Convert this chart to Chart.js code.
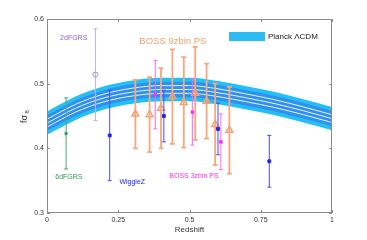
<!DOCTYPE html>
<html>
<head>
<meta charset="utf-8">
<script src="https://cdn.jsdelivr.net/npm/chart.js@4"></script>
<style>
html,body{margin:0;padding:0;background:#fff;}
</style>
</head>
<body>
<canvas id="graf" width="367" height="240"></canvas>
<script>
// Planck LCDM band
const planckZ = [0, 0.1, 0.2, 0.3, 0.4, 0.5, 0.6, 0.7, 0.8, 0.9, 1.0];
const planckFs8 = [0.439, 0.462, 0.478, 0.487, 0.491, 0.491, 0.486, 0.478, 0.469, 0.458, 0.446];
const planckOuter = 0.018;
const planckInner = 0.012;
const planckLine = 0.006;

// 6dFGRS
const sixdfZ = [0.067];
const sixdfF = [0.423];
const sixdfErr = [0.055];

// 2dFGRS
const twodfZ = [0.17];
const twodfF = [0.514];
const twodfErr = [0.071];

// WiggleZ
const wiggleZ = [0.22, 0.41, 0.60, 0.78];
const wiggleF = [0.42, 0.45, 0.43, 0.38];
const wiggleErr = [0.07, 0.04, 0.04, 0.04];

// BOSS 3zbin PS
const boss3Z = [0.38, 0.51, 0.61];
const boss3F = [0.483, 0.456, 0.410];
const boss3Err = [0.053, 0.051, 0.043];

// BOSS 9zbin PS
const boss9Z = [0.31, 0.36, 0.40, 0.44, 0.48, 0.52, 0.56, 0.59, 0.64];
const boss9F = [0.453, 0.452, 0.462, 0.480, 0.471, 0.485, 0.473, 0.437, 0.428];
const boss9Err = [0.053, 0.058, 0.062, 0.073, 0.070, 0.072, 0.058, 0.063, 0.067];

// axis ticks
const xTicks = [0, 0.25, 0.5, 0.75, 1];
const yTicks = [0.3, 0.4, 0.5, 0.6];

const pts = (xs, ys) => xs.map((x, i) => ({x: x, y: ys[i]}));
const band = (d) => planckZ.map((z, i) => ({x: z, y: planckFs8[i] + d}));

const FONT = "'Liberation Sans', Arial, sans-serif";

function bandSet(d, order, extra) {
  return Object.assign({
    data: band(d),
    borderWidth: 0,
    pointRadius: 0,
    cubicInterpolationMode: 'monotone',
    fill: false,
    order: order
  }, extra || {});
}

function pointSet(label, xs, ys, errs, style) {
  return Object.assign({
    label: label,
    data: pts(xs, ys),
    errors: errs,
    showLine: false,
    order: 1
  }, style);
}

const datasets = [
  bandSet(planckOuter, 14),
  bandSet(-planckOuter, 14, {fill: '-1', backgroundColor: '#22c0f6'}),
  bandSet(planckInner, 13),
  bandSet(-planckInner, 13, {fill: '-1', backgroundColor: '#2f90ee'}),
  bandSet(planckLine, 12, {borderWidth: 1, borderColor: '#e8f4ff'}),
  bandSet(0, 12, {borderWidth: 1, borderColor: '#e8f4ff'}),
  bandSet(-planckLine, 12, {borderWidth: 1, borderColor: '#e8f4ff'}),
  pointSet('6dFGRS', sixdfZ, sixdfF, sixdfErr, {
    pointStyle: 'rect', pointRadius: 1.5, backgroundColor: '#2f9a5c', borderColor: '#2f9a5c',
    errColor: '#4aa870', errWidth: 1, cap: 2
  }),
  pointSet('2dFGRS', twodfZ, twodfF, twodfErr, {
    pointStyle: 'circle', pointRadius: 2.5, backgroundColor: 'rgba(0,0,0,0)', borderColor: '#a48fe6', pointBorderWidth: 1,
    errColor: '#bfb0f2', errWidth: 1, cap: 2
  }),
  pointSet('WiggleZ', wiggleZ, wiggleF, wiggleErr, {
    pointStyle: 'rect', pointRadius: 2, backgroundColor: '#2020ff', borderColor: '#2020ff',
    errColor: '#4a4aff', errWidth: 1, cap: 2
  }),
  pointSet('BOSS 3zbin PS', boss3Z, boss3F, boss3Err, {
    pointStyle: 'rect', pointRadius: 1.8, backgroundColor: '#ff30ee', borderColor: '#ff30ee',
    errColor: '#ff66f2', errWidth: 1, cap: 2
  }),
  pointSet('BOSS 9zbin PS', boss9Z, boss9F, boss9Err, {
    pointStyle: 'triangle', pointRadius: 4, backgroundColor: 'rgba(0,0,0,0)', borderColor: '#f5a070', pointBorderWidth: 1.5,
    errColor: '#f7a77e', errWidth: 1.8, cap: 2.5
  })
];

// annotation labels (data coords of left edge / middle)
const labels = [
  {text: '2dFGRS', x: 0.046, y: 0.571, color: '#8f5fd6', size: 7},
  {text: 'BOSS 9zbin PS', x: 0.324, y: 0.566, color: '#f5a070', size: 9.5},
  {text: '6dFGRS', x: 0.029, y: 0.355, color: '#2f9a5c', size: 7},
  {text: 'WiggleZ', x: 0.254, y: 0.348, color: '#2020ff', size: 7},
  {text: 'BOSS 3zbin PS', x: 0.429, y: 0.357, color: '#ff30ee', size: 7}
];

const errorBars = {
  id: 'errorBars',
  beforeDatasetDraw(chart, args) {
    const ds = chart.data.datasets[args.index];
    if (!ds.errors) return;
    const xs = chart.scales.x, ys = chart.scales.y, ctx = chart.ctx;
    ctx.save();
    ctx.strokeStyle = ds.errColor;
    ctx.lineWidth = ds.errWidth;
    ds.data.forEach((p, i) => {
      const px = xs.getPixelForValue(p.x);
      const top = ys.getPixelForValue(p.y + ds.errors[i]);
      const bot = ys.getPixelForValue(p.y - ds.errors[i]);
      ctx.beginPath();
      ctx.moveTo(px, top); ctx.lineTo(px, bot);
      ctx.moveTo(px - ds.cap, top); ctx.lineTo(px + ds.cap, top);
      ctx.moveTo(px - ds.cap, bot); ctx.lineTo(px + ds.cap, bot);
      ctx.stroke();
    });
    ctx.restore();
  }
};

const frame = {
  id: 'frame',
  afterDraw(chart) {
    const ctx = chart.ctx, a = chart.chartArea;
    const xs = chart.scales.x, ys = chart.scales.y;
    ctx.save();
    ctx.strokeStyle = '#8a8a8a';
    ctx.lineWidth = 1;
    ctx.strokeRect(Math.round(a.left) + 0.5, Math.round(a.top) + 0.5,
      Math.round(a.right - a.left) - 1, Math.round(a.bottom - a.top) - 1);
    ctx.beginPath();
    xTicks.forEach((v) => {
      const px = Math.round(xs.getPixelForValue(v)) + 0.5;
      ctx.moveTo(px, a.bottom); ctx.lineTo(px, a.bottom - 3);
      ctx.moveTo(px, a.top); ctx.lineTo(px, a.top + 3);
    });
    yTicks.forEach((v) => {
      const py = Math.round(ys.getPixelForValue(v)) + 0.5;
      ctx.moveTo(a.left, py); ctx.lineTo(a.left + 3, py);
      ctx.moveTo(a.right, py); ctx.lineTo(a.right - 3, py);
    });
    ctx.stroke();

    // text labels
    ctx.textBaseline = 'middle';
    ctx.textAlign = 'left';
    labels.forEach((l) => {
      ctx.fillStyle = l.color;
      ctx.font = l.size + 'px ' + FONT;
      ctx.fillText(l.text, xs.getPixelForValue(l.x), ys.getPixelForValue(l.y));
    });

    // legend
    ctx.fillStyle = '#2bbcf6';
    ctx.fillRect(a.left + 182, a.top + 13, 36, 9);
    ctx.fillStyle = '#222';
    ctx.font = '8px ' + FONT;
    ctx.fillText('Planck \u039BCDM', a.left + 221, a.top + 17.5);

    // axis titles
    ctx.fillStyle = '#333';
    ctx.textAlign = 'center';
    ctx.font = '8px ' + FONT;
    ctx.fillText('Redshift', (a.left + a.right) / 2, 229.5);
    ctx.translate(25, 116);
    ctx.rotate(-Math.PI / 2);
    ctx.font = '9px ' + FONT;
    ctx.textAlign = 'left';
    ctx.fillText('f\u03C3', -7, 0);
    ctx.font = '6px ' + FONT;
    ctx.fillText('8', 2.5, 2);
    ctx.restore();
  }
};

new Chart(document.getElementById('graf').getContext('2d'), {
  type: 'line',
  data: {datasets: datasets},
  plugins: [errorBars, frame],
  options: {
    responsive: false,
    animation: false,
    devicePixelRatio: 1,
    layout: {padding: {top: 19, right: 35, left: 0, bottom: 0}},
    plugins: {legend: {display: false}, tooltip: {enabled: false}},
    scales: {
      x: {
        type: 'linear', min: 0, max: 1,
        afterFit: (s) => { s.height = 27; },
        afterBuildTicks: (s) => { s.ticks = xTicks.map((v) => ({value: v})); },
        grid: {display: false, drawTicks: false}, border: {display: false},
        ticks: {color: '#333', padding: 3, font: {size: 7, family: FONT}, maxRotation: 0,
          callback: (v) => String(v)}
      },
      y: {
        min: 0.3, max: 0.6,
        afterFit: (s) => { s.width = 47; },
        afterBuildTicks: (s) => { s.ticks = yTicks.map((v) => ({value: v})); },
        grid: {display: false, drawTicks: false}, border: {display: false},
        ticks: {color: '#333', padding: 3, font: {size: 7, family: FONT},
          callback: (v) => String(v)}
      }
    }
  }
});
</script>
</body>
</html>
